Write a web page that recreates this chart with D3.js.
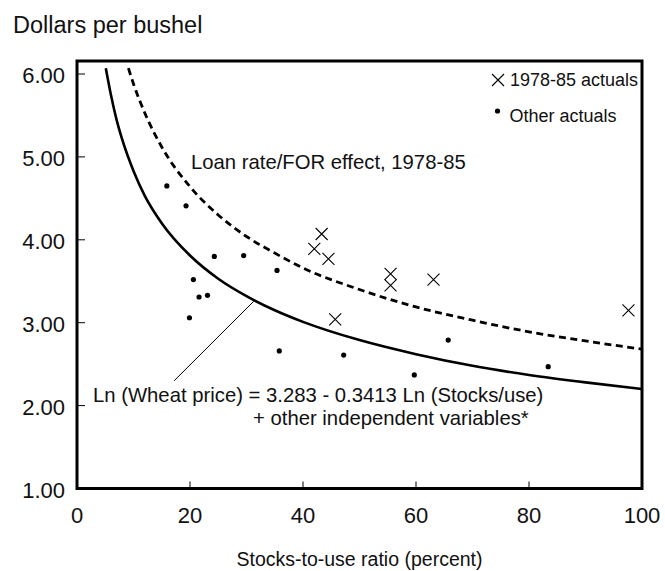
<!DOCTYPE html>
<html><head><meta charset="utf-8">
<script src="https://cdn.jsdelivr.net/npm/d3@7/dist/d3.min.js"></script>
<style>
html,body{margin:0;padding:0;background:#fff;}
svg{display:block;font-family:"Liberation Sans",Arial,sans-serif;}
</style></head>
<body>
<svg id="chart" width="665" height="571"></svg>
<script>
// ---- data ----
const xTicks = [0, 20, 40, 60, 80, 100];
const yTicks = [1, 2, 3, 4, 5, 6];
// "Other actuals" (stocks-to-use %, $/bu)
const otherX = [15.9, 19.3, 20.6, 21.6, 19.9, 23.1, 24.3, 29.5, 35.4, 35.8, 47.2, 59.7, 65.7, 83.4];
const otherY = [4.65, 4.41, 3.52, 3.31, 3.06, 3.33, 3.80, 3.81, 3.63, 2.66, 2.61, 2.37, 2.79, 2.47];
// "1978-85 actuals"
const actX = [43.3, 42.0, 44.5, 55.5, 55.5, 63.1, 45.7, 97.6];
const actY = [4.07, 3.89, 3.77, 3.59, 3.45, 3.52, 3.04, 3.15];
// fitted curve (solid)
const fitX = [5.1, 6, 7, 8, 10, 12, 15, 20, 25, 30, 35, 40, 50, 60, 70, 80, 90, 100];
const fitY = [6.07, 5.75, 5.45, 5.21, 4.83, 4.53, 4.20, 3.81, 3.53, 3.32, 3.15, 3.01, 2.79, 2.62, 2.48, 2.37, 2.28, 2.20];
// loan rate/FOR effect curve (dashed)
const forX = [9.1, 10, 12, 15, 20, 25, 30, 35, 40, 50, 60, 70, 80, 90, 100];
const forY = [6.07, 5.88, 5.53, 5.12, 4.64, 4.30, 4.04, 3.84, 3.66, 3.40, 3.19, 3.03, 2.89, 2.78, 2.68];
// pointer line endpoints (data coords)
const pointerX = [31.3, 17.2];
const pointerY = [3.26, 2.30];

const yTitle = "Dollars per bushel";
const xTitle = "Stocks-to-use ratio (percent)";
const curveLabel = "Loan rate/FOR effect, 1978-85";
const eqLine1 = "Ln (Wheat price) = 3.283 - 0.3413 Ln (Stocks/use)";
const eqLine2 = "+ other independent variables*";
const legendLabels = ["1978-85 actuals", "Other actuals"];

// ---- drawing ----
const svg = d3.select("#chart");
const pL = 77, pR = 642, pT = 61, pB = 488.5;
const x = d3.scaleLinear().domain([0, 100]).range([pL, pR]);
const y = d3.scaleLinear().domain([1, 6]).range([pB, 74]);

svg.append("defs").append("clipPath").attr("id", "clip")
  .append("rect").attr("x", pL).attr("y", pT).attr("width", pR - pL).attr("height", pB - pT);

// y title
svg.append("text").attr("x", 13).attr("y", 33).attr("font-size", 23.5).attr("fill", "#111").text(yTitle);

// ticks (inward)
const tickG = svg.append("g").attr("stroke", "#000").attr("stroke-width", 1);
xTicks.forEach(t => {
  tickG.append("line").attr("x1", x(t)).attr("x2", x(t)).attr("y1", pB).attr("y2", pB - 7);
});
yTicks.forEach(t => {
  tickG.append("line").attr("x1", pL).attr("x2", pL + 8).attr("y1", y(t)).attr("y2", y(t));
});
// tick labels
svg.append("g").selectAll("text").data(xTicks).join("text")
  .attr("x", d => x(d)).attr("y", 523).attr("text-anchor", "middle")
  .attr("font-size", 22).attr("fill", "#111").text(d => d3.format("d")(d));
svg.append("g").selectAll("text").data(yTicks).join("text")
  .attr("x", 65).attr("y", d => y(d)).attr("dy", "0.43em").attr("text-anchor", "end")
  .attr("font-size", 22).attr("fill", "#111").text(d => d3.format(".2f")(d));

// x title
svg.append("text").attr("x", (pL + pR) / 2).attr("y", 566).attr("text-anchor", "middle")
  .attr("font-size", 19.5).attr("fill", "#111").text(xTitle);

const plot = svg.append("g").attr("clip-path", "url(#clip)");
const line = d3.line().x(d => x(d[0])).y(d => y(d[1])).curve(d3.curveMonotoneX);

plot.append("path").datum(fitX.map((v, i) => [v, fitY[i]]))
  .attr("d", line).attr("fill", "none").attr("stroke", "#000").attr("stroke-width", 2.6);
plot.append("path").datum(forX.map((v, i) => [v, forY[i]]))
  .attr("d", line).attr("fill", "none").attr("stroke", "#000").attr("stroke-width", 2.8)
  .attr("stroke-dasharray", "7,4.5");

// pointer line
svg.append("line").attr("x1", x(pointerX[0])).attr("y1", y(pointerY[0]))
  .attr("x2", x(pointerX[1])).attr("y2", y(pointerY[1]))
  .attr("stroke", "#000").attr("stroke-width", 1);

// dots
plot.append("g").selectAll("circle").data(otherX.map((v, i) => [v, otherY[i]])).join("circle")
  .attr("cx", d => x(d[0])).attr("cy", d => y(d[1])).attr("r", 2.6).attr("fill", "#000");

// crosses
const cross = (cx, cy, s) => `M${cx - s},${cy - s}L${cx + s},${cy + s}M${cx - s},${cy + s}L${cx + s},${cy - s}`;
plot.append("g").selectAll("path").data(actX.map((v, i) => [v, actY[i]])).join("path")
  .attr("d", d => cross(x(d[0]), y(d[1]), 6)).attr("stroke", "#000").attr("stroke-width", 1.1).attr("fill", "none");

// annotations
svg.append("text").attr("x", 191).attr("y", 169).attr("font-size", 20.3).attr("fill", "#111").text(curveLabel);
svg.append("text").attr("x", 93).attr("y", 401.5).attr("font-size", 20.3).attr("fill", "#111").text(eqLine1);
svg.append("text").attr("x", 253).attr("y", 425).attr("font-size", 20.3).attr("fill", "#111").text(eqLine2);

// legend
svg.append("path").attr("d", cross(498, 80, 6)).attr("stroke", "#000").attr("stroke-width", 1.1).attr("fill", "none");
svg.append("text").attr("x", 510).attr("y", 86).attr("font-size", 18).attr("fill", "#111").text(legendLabels[0]);
svg.append("circle").attr("cx", 497.5).attr("cy", 111).attr("r", 2.6).attr("fill", "#000");
svg.append("text").attr("x", 509.5).attr("y", 121.5).attr("font-size", 18).attr("fill", "#111").text(legendLabels[1]);

// frame
svg.append("rect").attr("x", pL).attr("y", pT).attr("width", pR - pL).attr("height", pB - pT)
  .attr("fill", "none").attr("stroke", "#000").attr("stroke-width", 3);
</script>
</body></html>
